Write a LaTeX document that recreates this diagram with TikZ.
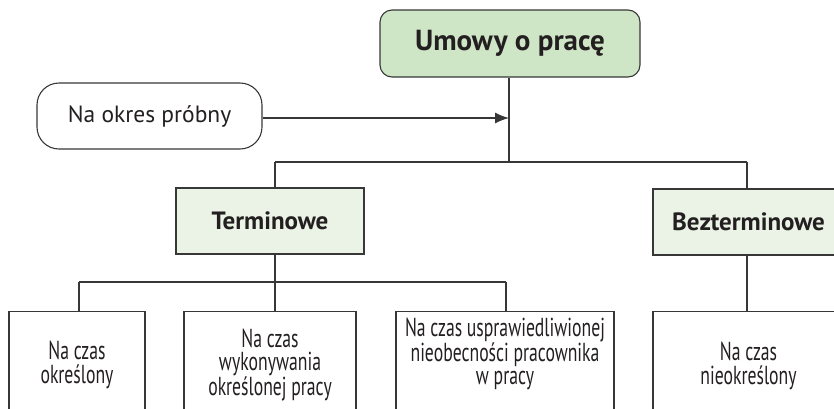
\documentclass[tikz,border=0pt]{standalone}
\usepackage{fontspec}
\setmainfont{PT Sans}
\newfontfamily\condfont[FakeStretch=0.68]{PT Sans}
\usetikzlibrary{arrows.meta}
\definecolor{topgreen}{RGB}{206,230,197}
\definecolor{midgreen}{RGB}{234,243,230}
\definecolor{ink}{RGB}{35,31,32}
\definecolor{edge}{RGB}{55,55,55}
\begin{document}
\begin{tikzpicture}[x=1pt,y=-1pt,
  every node/.style={text=ink},
  conn/.style={draw=edge,line width=1.2pt},
  topbox/.style={draw=edge,line width=1.1pt,fill=topgreen,rounded corners=12pt,
    minimum width=260pt,minimum height=67pt,inner sep=0pt,
    font=\fontsize{29}{32}\selectfont\bfseries},
  sidebox/.style={draw=edge,line width=1.1pt,fill=white,rounded corners=22pt,
    minimum width=225pt,minimum height=66pt,inner sep=0pt,
    font=\fontsize{23.5}{26}\selectfont},
  midbox/.style={draw=edge,line width=1.1pt,fill=midgreen,
    minimum height=66pt,inner sep=0pt,
    font=\fontsize{25}{28}\selectfont\bfseries},
  leafbox/.style={draw=edge,line width=1.1pt,fill=white,anchor=north,
    minimum height=130pt,inner sep=0pt},
  leaftext/.style={align=center,inner sep=0pt,
    font=\fontsize{26}{23.5}\selectfont\condfont}
]
\useasboundingbox (0,0) rectangle (834,408);
\clip (0,0) rectangle (834,408);

% top level
\node[topbox] (top) at (510,43.5) {Umowy o pracę};
\node[sidebox] (side) at (149.5,116) {Na okres próbny};

% junctions
\coordinate (arr) at (509,118);
\coordinate (j1) at (509,162);
\coordinate (jT) at (275,162);
\coordinate (jB) at (747,162);

% second level
\node[midbox,minimum width=188pt] (term) at (270,221) {Terminowe};
\node[midbox,minimum width=191pt] (bez) at (748.5,222) {Bezterminowe};

% lower bus
\coordinate (k1) at (79,282);
\coordinate (k2) at (275,282);
\coordinate (k3) at (506,282);

% leaves
\node[leafbox,minimum width=136pt] (b1) at (77,311) {};
\node[leafbox,minimum width=172pt] (b2) at (270,311) {};
\node[leafbox,minimum width=218pt] (b3) at (505,311) {};
\node[leafbox,minimum width=191pt] (b4) at (748.5,311) {};

\node[leaftext] (t1) at (77,365) {Na czas\\określony};
\node[leaftext] (t2) at (270,365) {Na czas\\wykonywania\\określonej pracy};
\node[leaftext] (t3) at (505,354) {Na czas usprawiedliwionej\\nieobecności pracownika\\w pracy};
\node[leaftext] (t4) at (748.5,366) {Na czas\\nieokreślony};

% connectors
\draw[conn] (top.south -| j1) -- (j1);
\draw[conn,-{Latex[length=14pt,width=11pt]}] (side.east |- arr) -- (arr);
\draw[conn] (jT) -- (jB);
\draw[conn] (jT) -- (jT |- term.north);
\draw[conn] (jB) -- (jB |- bez.north);
\draw[conn] (term.south -| k2) -- (k2);
\draw[conn] (k1) -- (k3);
\draw[conn] (k1) -- (k1 |- b1.north);
\draw[conn] (k2) -- (k2 |- b2.north);
\draw[conn] (k3) -- (k3 |- b3.north);
\draw[conn] (bez.south -| jB) -- (jB |- b4.north);
\end{tikzpicture}
\end{document}
